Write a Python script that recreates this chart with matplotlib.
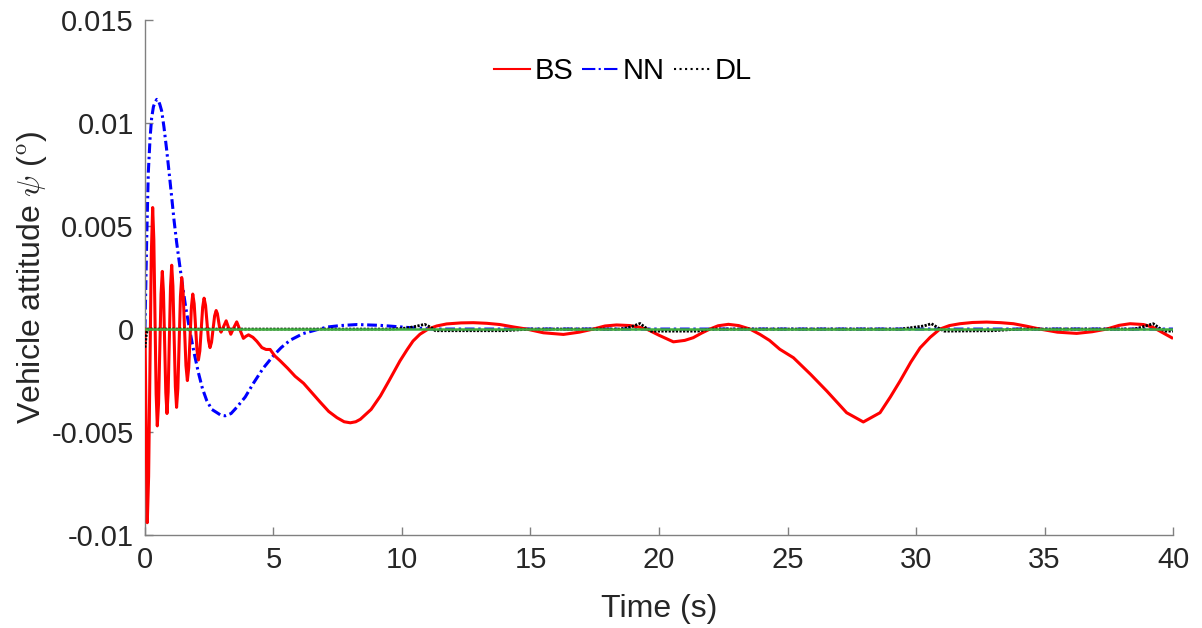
import numpy as np
import matplotlib
matplotlib.use('Agg')
import matplotlib.pyplot as plt
from matplotlib.lines import Line2D

plt.rcParams['font.family'] = ['Liberation Sans', 'DejaVu Sans']
plt.rcParams['mathtext.fontset'] = 'cm'
plt.rcParams['axes.unicode_minus'] = False

# BS response
t_bs = [0, 0.09, 0.1425, 0.195, 0.2475, 0.30, 0.345, 0.39, 0.435, 0.48, 0.529, 0.5775, 0.626,
        0.675, 0.72, 0.766, 0.811, 0.857, 0.903, 0.9485, 0.994, 1.04, 1.0875, 1.135, 1.1825,
        1.23, 1.28, 1.33, 1.38, 1.43, 1.485, 1.54, 1.595, 1.65, 1.7025, 1.755, 1.8075, 1.86,
        1.915, 1.97, 2.025, 2.08, 2.135, 2.19, 2.245, 2.30, 2.3575, 2.415, 2.4725, 2.53, 2.59,
        2.65, 2.71, 2.77, 2.8175, 2.865, 2.9125, 2.96, 3.06, 3.16, 3.25, 3.34, 3.45, 3.57, 3.70,
        3.83, 3.93, 4.03, 4.2, 4.35, 4.55, 4.71, 4.87, 5.05, 5.26, 5.55, 5.84, 6.17, 6.5, 6.82,
        7.15, 7.47, 7.75, 7.99, 8.2, 8.38, 8.8, 9.16, 9.5, 9.92, 10.2, 10.43, 10.7, 11.02,
        11.35, 11.74, 12.3, 12.78, 13.3, 13.81, 14.35, 14.85, 15.5, 16.28, 16.9, 17.44, 17.9,
        18.35, 18.87, 19.2, 19.52, 20.0, 20.56, 21.0, 21.33, 21.65, 21.98, 22.3, 22.7, 23.1,
        23.54, 23.93, 24.3, 24.7, 25.23, 25.9, 26.53, 27.3, 27.95, 28.6, 29.0, 29.38, 29.8,
        30.16, 30.55, 30.93, 31.3, 31.71, 32.2, 32.75, 33.3, 33.79, 34.3, 34.82, 35.5, 36.25,
        36.85, 37.42, 37.9, 38.33, 38.85, 39.2, 39.49, 39.95]
v_bs = [0, -0.0094, -0.00716, -0.00175, 0.00366, 0.0059, 0.00435, 0.0006, -0.00315, -0.0047,
        -0.0036, -0.00095, 0.0017, 0.0028, 0.00179, -0.00065, -0.00309, -0.0041, -0.00305,
        -0.0005, 0.00205, 0.0031, 0.00209, -0.00035, -0.00279, -0.0038, -0.00288, -0.00065,
        0.00158, 0.0025, 0.00177, 0.0, -0.00177, -0.0025, -0.00188, -0.0004, 0.00108, 0.0017,
        0.00123, 0.0001, -0.00103, -0.0015, -0.00106, 0.0, 0.00106, 0.0015, 0.00115, 0.0003,
        -0.00055, -0.0009, -0.00064, 0.0, 0.00064, 0.0009, 0.00075, 0.000375, 0.0, -0.00015,
        0.00013, 0.0004, 0.00008, -0.00025, 0.00005, 0.00035, -0.00005, -0.00045, -0.00035,
        -0.00028, -0.0004, -0.00059, -0.0009, -0.00099, -0.00099, -0.0013, -0.00154, -0.0019,
        -0.00229, -0.00263, -0.0031, -0.00355, -0.004, -0.0043, -0.0045, -0.00455, -0.0045,
        -0.00438, -0.0039, -0.00325, -0.0025, -0.00155, -0.001, -0.00058, -0.00025, 0.0,
        0.00015, 0.00025, 0.0003, 0.00031, 0.00028, 0.00022, 0.0001, 0.0, -0.00018, -0.00026,
        -0.00015, 0.0, 0.00015, 0.0002, 0.00017, 0.0001, 0.0, -0.0003, -0.00062, -0.00055,
        -0.00042, -0.0002, 0.0, 0.00016, 0.00023, 0.00017, 0.0, -0.00026, -0.00055, -0.00098,
        -0.00139, -0.0022, -0.00301, -0.00406, -0.00451, -0.00406, -0.0033, -0.00252, -0.0016,
        -0.00091, -0.0004, 0.0, 0.00017, 0.00026, 0.00032, 0.00034, 0.00031, 0.00026, 0.00014,
        0.0, -0.00015, -0.00021, -0.00013, 0.0, 0.00018, 0.00026, 0.00022, 0.0001, -0.0001,
        -0.00042]

# NN response
t_nn = [0, 0.07, 0.13, 0.2, 0.26, 0.33, 0.39, 0.46, 0.52, 0.58, 0.65, 0.74, 0.84, 0.94, 1.04,
        1.13, 1.23, 1.33, 1.43, 1.58, 1.75, 1.92, 2.08, 2.24, 2.40, 2.6, 2.79, 2.95, 3.12,
        3.35, 3.57, 3.9, 4.22, 4.6, 5.0, 5.3, 5.65, 6.15, 6.69, 7.1, 7.6, 8.25, 9.16, 10.2,
        11.2, 40]
v_nn = [0, 0.0045, 0.0076, 0.0093, 0.01025, 0.0108, 0.011, 0.01115, 0.0111, 0.0109, 0.01059,
        0.0098, 0.00875, 0.0076, 0.0064, 0.0053, 0.00423, 0.0033, 0.00239, 0.0011, -0.00012,
        -0.0012, -0.00212, -0.0029, -0.00346, -0.0039, -0.00405, -0.00418, -0.00421, -0.0041,
        -0.0038, -0.0033, -0.00263, -0.0019, -0.00129, -0.0009, -0.00054, -0.00022, -0.00003,
        0.0001, 0.00017, 0.00022, 0.00018, 0.00008, 0.0, 0.0]

# DL response
t_dl = [0, 0.05, 0.1, 9.6, 10.2, 10.6, 10.88, 11.1, 11.3, 14, 15, 18.5, 18.9, 19.26, 19.5,
        19.7, 21.5, 22, 29.4, 30.0, 30.3, 30.6, 30.9, 31.1, 33, 34, 38.5, 38.8, 39.23, 39.5,
        39.7, 40]
v_dl = [-0.0009, -0.0003, 0, 0, 0.00005, 0.00015, 0.00023, 0.0001, -0.00008, -0.00008, 0, 0,
        0.0001, 0.00027, 0.00005, -0.0001, -0.0001, 0, 0, 0.0001, 0.00015, 0.00026, 0.00003,
        -0.0001, -0.00008, 0, 0, 0.0001, 0.00026, 0.00002, -0.0001, -0.0001]

# reference
t_ref = [0, 40]
v_ref = [0, 0]

y_ticks = [-0.01, -0.005, 0, 0.005, 0.01, 0.015]
x_ticks = [0, 5, 10, 15, 20, 25, 30, 35, 40]

fig = plt.figure(figsize=(12.02, 6.28), dpi=100)
ax = fig.add_axes([0.1206, 0.148, 0.8553, 0.820])

ax.plot(t_bs, v_bs, color='#ff0000', lw=2.2, label='BS', zorder=3)
ax.plot(t_nn, v_nn, color='#0000ff', lw=2.2, ls='-.', dashes=(3.2, 1.2, 0.8, 1.2),
        label='NN', zorder=2)
ax.plot(t_dl, v_dl, color='k', lw=2.0, ls=':', dashes=(0.8, 0.5), label='DL', zorder=4)
ax.plot(t_ref, v_ref, color='#3fae3f', lw=1.8, zorder=5)

ax.set_xlim(0, 40)
ax.set_ylim(-0.01, 0.015)
ax.set_xticks(x_ticks)
ax.set_yticks(y_ticks)
ax.set_yticklabels(['%g' % v for v in y_ticks])
ax.tick_params(direction='in', length=6, width=1, colors='#808080',
               labelcolor='#262626', labelsize=21, pad=8)
for s in ['top', 'right']:
    ax.spines[s].set_visible(False)
for s in ['left', 'bottom']:
    ax.spines[s].set_color('#808080')
    ax.spines[s].set_linewidth(1.0)

ax.set_xlabel('Time (s)', fontsize=23, color='#262626', labelpad=14)
ax.set_ylabel(r'Vehicle attitude $\psi$ ($^{\rm o}$)', fontsize=23, color='#262626', labelpad=2)

handles = [Line2D([], [], color='#ff0000', lw=1.5),
           Line2D([], [], color='#0000ff', lw=1.5, ls='-.'),
           Line2D([], [], color='k', lw=1.5, ls=':')]
fig.legend(handles, ['BS', 'NN', 'DL'], loc='center', bbox_to_anchor=(0.518, 0.887),
           ncol=3, frameon=False, fontsize=21, handlelength=1.25, handletextpad=0.15,
           columnspacing=0.3)

fig.savefig('out.png', dpi=100)
